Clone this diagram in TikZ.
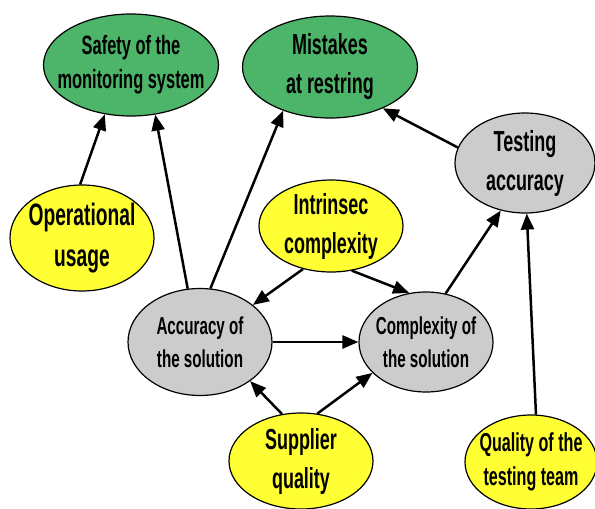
\documentclass[tikz,border=0pt]{standalone}
\usepackage{fontspec}
\setmainfont[FakeStretch=0.62]{Liberation Sans}
\usetikzlibrary{shapes.geometric,arrows.meta}
\definecolor{outcome}{RGB}{77,181,106}
\definecolor{factor}{RGB}{255,255,51}
\definecolor{inner}{RGB}{204,204,204}
\tikzset{
  blob/.style={ellipse,draw,line width=1.2pt,inner sep=0pt},
  outcome/.style={blob,fill=outcome},
  factor/.style={blob,fill=factor},
  inner/.style={blob,fill=inner},
  small text/.style={align=center,font=\bfseries\fontsize{24.5}{33}\selectfont},
  big text/.style={align=center,font=\bfseries\fontsize{29}{39}\selectfont},
  link/.style={line width=2.5pt,-{Triangle[length=16pt,width=13pt]}},
}
\begin{document}
\begin{tikzpicture}[x=1pt,y=-1pt]
\useasboundingbox (0,0) rectangle (595,509);
% consequences
\node[outcome,minimum width=175pt,minimum height=102pt,
  label={[small text,font=\bfseries\fontsize{26.5}{34}\selectfont]center:Safety of the\\monitoring system}] (safety) at (131,65) {};
\node[outcome,minimum width=175pt,minimum height=102pt,
  label={[big text]center:Mistakes\\at restring}] (mistakes) at (330,67) {};
% intermediate factors
\node[inner,minimum width=140pt,minimum height=100pt,
  label={[big text]center:Testing\\accuracy}] (testing) at (525,163) {};
\node[inner,minimum width=144pt,minimum height=107pt,
  label={[small text]center:Accuracy of\\the solution}] (accuracy) at (200,342) {};
\node[inner,minimum width=134pt,minimum height=100pt,
  label={[small text]center:Complexity of\\the solution}] (complexity) at (426,342) {};
% root factors
\node[factor,minimum width=144pt,minimum height=106pt,
  label={[big text,font=\bfseries\fontsize{31}{41}\selectfont]center:Operational\\usage}] (usage) at (82,238) {};
\node[factor,minimum width=144pt,minimum height=92pt,
  label={[big text]center:Intrinsec\\complexity}] (intrinsec) at (331,226) {};
\node[factor,minimum width=144pt,minimum height=96pt,
  label={[big text]center:Supplier\\quality}] (supplier) at (301,461) {};
\node[factor,minimum width=132pt,minimum height=94pt,
  label={[small text,font=\bfseries\fontsize{26}{34}\selectfont]center:Quality of the\\testing team}] (team) at (531,462) {};

\draw[link] (usage.92) -- (safety.-118);
\draw[link] (accuracy.103) -- (safety.-64);
\draw[link] (accuracy.79) -- (mistakes.-137);
\draw[link] (testing.167) -- (mistakes.-38);
\draw[link] (intrinsec.-123) -- (accuracy.35);
\draw[link] (intrinsec.-65) -- (complexity.109);
\draw[link] (accuracy) -- (complexity);
\draw[link] (complexity.68) -- (testing.-117);
\draw[link] (team.84) -- (testing.-88);
\draw[link] (supplier.112) -- (accuracy.-38);
\draw[link] (supplier.71) -- (complexity.-150);
\end{tikzpicture}
\end{document}
